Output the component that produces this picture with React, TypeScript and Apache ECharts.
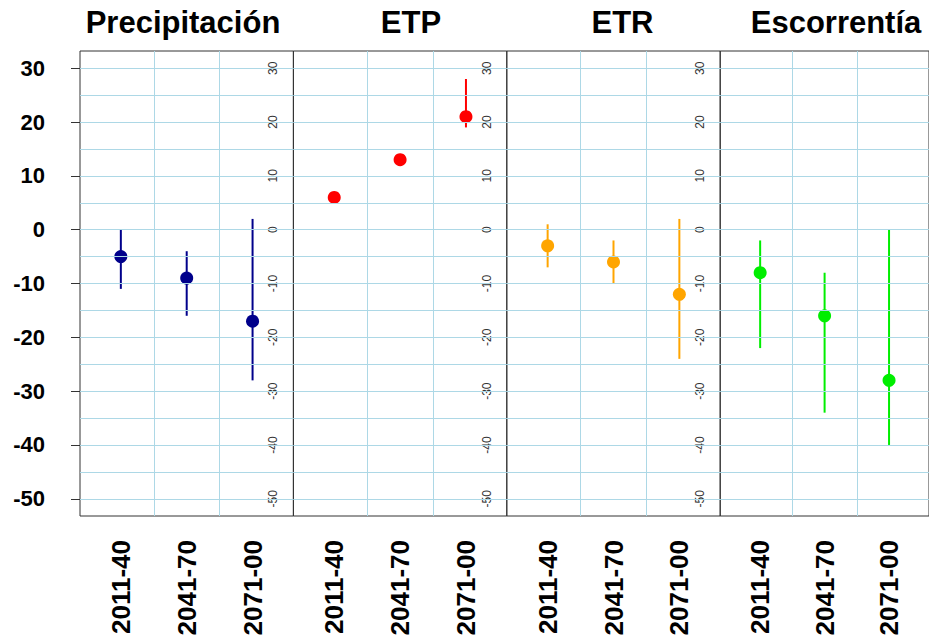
import React, { useEffect, useRef } from "react";
import * as echarts from "echarts";

const categories = ["2011-40", "2041-70", "2071-00"];
const panelTitles = ["Precipitación", "ETP", "ETR", "Escorrentía"];
const panelColors = ["#00008B", "#FF0000", "#FFA500", "#00EE00"];

const precipMean = [-5, -9, -17];
const precipLow = [-11, -16, -28];
const precipHigh = [0, -4, 2];

const etpMean = [6, 13, 21];
const etpLow = [5.5, 12.5, 19];
const etpHigh = [6.5, 13.5, 28];

const etrMean = [-3, -6, -12];
const etrLow = [-7, -10, -24];
const etrHigh = [1, -2, 2];

const escMean = [-8, -16, -28];
const escLow = [-22, -34, -40];
const escHigh = [-2, -8, 0];

const yTickValues = [-50, -40, -30, -20, -10, 0, 10, 20, 30];
const yGridValues = [-50, -45, -40, -35, -30, -25, -20, -15, -10, -5, 0, 5, 10, 15, 20, 25, 30];
const xGridValues = [1.5, 2.5];
const xPositions = [1, 2, 3];

const panelMeans = [precipMean, etpMean, etrMean, escMean];
const panelLows = [precipLow, etpLow, etrLow, escLow];
const panelHighs = [precipHigh, etpHigh, etrHigh, escHigh];

const FONT = "'Liberation Sans', Arial, Helvetica, sans-serif";
const PANEL_LEFT = 80;
const PANEL_W = 213.4;
const titleCenters = [183, 411, 622.5, 836];

export default function App() {
  const ref = useRef<HTMLDivElement>(null);
  useEffect(() => {
    if (!ref.current) return;
    const chart = echarts.init(ref.current, null, { renderer: "svg" });
    const grids: any[] = [];
    const xAxes: any[] = [];
    const yAxes: any[] = [];
    const series: any[] = [];
    const graphics: any[] = [];
    for (let i = 0; i < 4; i++) {
      grids.push({
        left: PANEL_LEFT + i * PANEL_W,
        width: PANEL_W,
        top: 51,
        height: 465,
        show: true,
        borderColor: "#333",
        borderWidth: 1,
        backgroundColor: "transparent",
      });
      xAxes.push({
        gridIndex: i,
        type: "value",
        min: 0.38,
        max: 3.62,
        axisLine: { show: false },
        axisTick: { show: false },
        splitLine: { show: false },
        axisLabel: {
          customValues: xPositions,
          formatter: (v: number) => categories[Math.round(v) - 1] ?? "",
          rotate: 90,
          margin: 24,
          fontSize: 26,
          fontWeight: "bold",
          color: "#000",
          fontFamily: FONT,
        },
      });
      yAxes.push({
        gridIndex: i,
        type: "value",
        min: -53.2,
        max: 33.2,
        axisLine: { show: false },
        splitLine: { show: false },
        axisTick: {
          show: true,
          customValues: yTickValues,
          length: i === 0 ? 9 : 8,
          lineStyle: { color: "#333", width: 1 },
        },
        axisLabel:
          i === 0
            ? {
                customValues: yTickValues,
                margin: 35,
                fontSize: 22,
                fontWeight: "bold",
                color: "#000",
                fontFamily: FONT,
              }
            : {
                customValues: yTickValues,
                rotate: 90,
                margin: 14,
                fontSize: 12,
                color: "#333",
                fontFamily: FONT,
              },
      });
      const color = panelColors[i];
      const means = panelMeans[i];
      const lows = panelLows[i];
      const highs = panelHighs[i];
      series.push({
        type: "line",
        xAxisIndex: i,
        yAxisIndex: i,
        data: [],
        z: 1,
        silent: true,
        markLine: {
          silent: true,
          symbol: ["none", "none"],
          label: { show: false },
          lineStyle: { color: "#ADD8E6", width: 1, type: "solid" },
          data: [
            ...yGridValues.map((v) => ({ yAxis: v })),
            ...xGridValues.map((v) => ({ xAxis: v })),
          ],
        },
      });
      series.push({
        type: "custom",
        xAxisIndex: i,
        yAxisIndex: i,
        z: 2,
        silent: true,
        encode: { x: 0, y: [1, 2] },
        data: xPositions.map((x, k) => [x, lows[k], highs[k]]),
        renderItem: (params: any, api: any) => {
          const p1 = api.coord([api.value(0), api.value(1)]);
          const p2 = api.coord([api.value(0), api.value(2)]);
          return {
            type: "line",
            shape: { x1: p1[0], y1: p1[1], x2: p2[0], y2: p2[1] },
            style: { stroke: color, lineWidth: 2 },
          };
        },
      });
      series.push({
        type: "scatter",
        xAxisIndex: i,
        yAxisIndex: i,
        z: 3,
        silent: true,
        symbol: "circle",
        symbolSize: 13,
        itemStyle: { color, opacity: 1 },
        data: xPositions.map((x, k) => [x, means[k]]),
      });
      graphics.push({
        type: "text",
        x: titleCenters[i],
        y: 22.6,
        style: {
          text: panelTitles[i],
          font: `bold 31px ${FONT}`,
          fill: "#000",
          textAlign: "center",
          textVerticalAlign: "middle",
          verticalAlign: "middle",
        },
      });
    }
    chart.setOption({
      animation: false,
      backgroundColor: "#fff",
      grid: grids,
      xAxis: xAxes,
      yAxis: yAxes,
      series,
      graphic: graphics,
    });
    return () => chart.dispose();
  }, []);
  return (
    <div
      ref={ref}
      style={{ position: "absolute", left: 0, top: 0, width: 929, height: 640 }}
    />
  );
}
